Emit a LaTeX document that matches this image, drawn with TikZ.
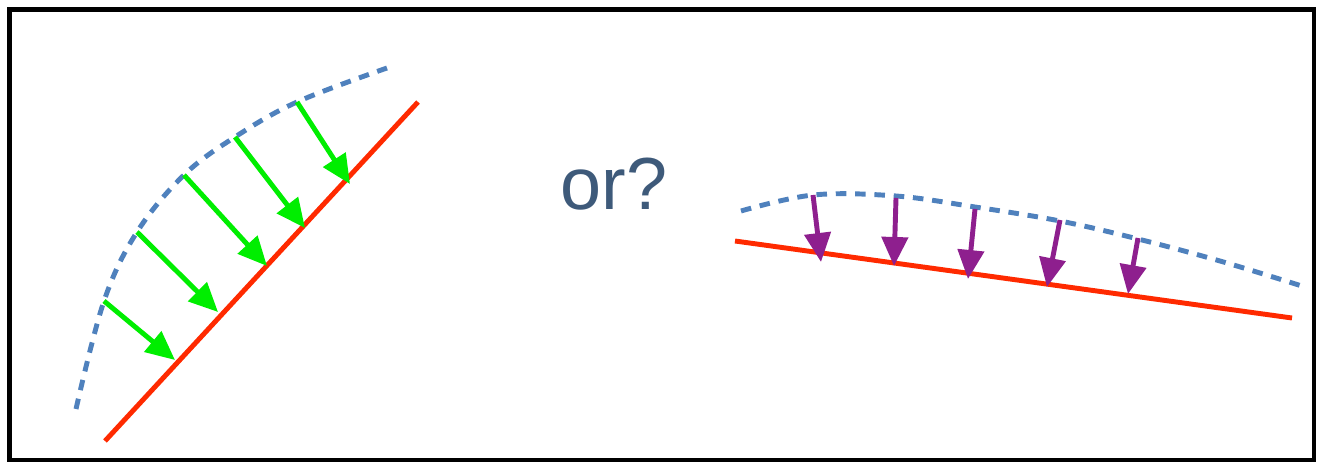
\documentclass[tikz,border=0pt]{standalone}
\usepackage{fontspec}
\setsansfont{Liberation Sans}
\usetikzlibrary{arrows.meta}
\definecolor{surfaceline}{HTML}{FF2A00}
\definecolor{guessline}{HTML}{4F81BD}
\definecolor{steeparrow}{HTML}{00EE00}
\definecolor{flatarrow}{HTML}{8E1F8E}
\definecolor{asktext}{HTML}{3E5A7A}
\tikzset{
  frame/.style={draw=black, line width=2.3pt},
  surface/.style={draw=surfaceline, line width=2.8pt},
  guess/.style={draw=guessline, line width=2.8pt, dash pattern=on 6pt off 5pt},
  push/.style={line width=2.8pt, -{Triangle[length=0.58cm, width=0.52cm]}},
  greenpush/.style={push, draw=steeparrow, fill=steeparrow},
  purplepush/.style={push, draw=flatarrow, fill=flatarrow},
  ask/.style={font=\sffamily\fontsize{42}{48}\selectfont, text=asktext}
}

\begin{document}
\begin{tikzpicture}[x=0.02cm, y=-0.02cm]

\useasboundingbox (0,0) rectangle (1318,462);

% Outer frame.
\draw[frame] (9.5,9.5) rectangle (1314,460);

% Left panel: steep surface.
\draw[surface] (105,441) -- (418,102);
\draw[guess] plot[smooth, tension=0.6] coordinates {(76,409) (104,301) (137,232) (184,175) (235,137) (297,102) (387,68)};
\foreach \xa/\ya/\xb/\yb in {104/301/175/360, 137/232/218/312, 184/175/267/266, 235/137/305/228, 297/102/350/184} {
  \draw[greenpush] (\xa,\ya) -- (\xb,\yb);
}

% Middle question.
\node[ask] (question) at (614,184) {or?};

% Right panel: flat surface.
\draw[surface] (735,241) -- (1292,318);
\draw[guess] plot[smooth, tension=0.6] coordinates {(741,211) (813,195) (896,196) (975,207) (1060,221) (1138,239) (1220,261) (1305,287)};
\foreach \xa/\ya/\xb/\yb in {813/195/821/262, 896/198/894/266, 975/209/968/279, 1060/220/1047/287, 1138/238/1128/294} {
  \draw[purplepush] (\xa,\ya) -- (\xb,\yb);
}

\end{tikzpicture}
\end{document}
